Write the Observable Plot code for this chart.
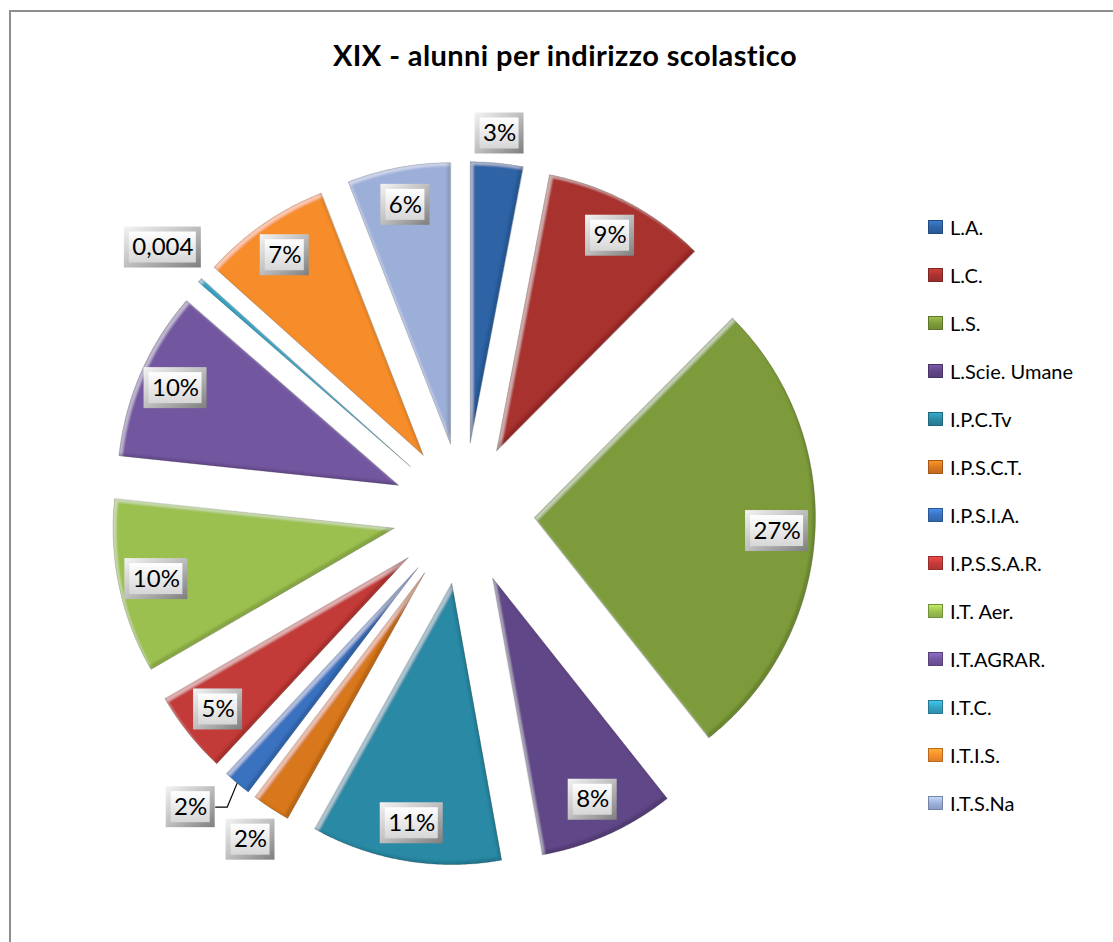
<!DOCTYPE html>
<html><head><meta charset="utf-8">
<script src="https://cdn.jsdelivr.net/npm/d3@7"></script>
<script src="https://cdn.jsdelivr.net/npm/@observablehq/plot@0.6"></script>
<style>
html,body{margin:0;padding:0;background:#fff;overflow:hidden;}
#wrap{position:relative;width:1113px;height:942px;overflow:hidden;font-family:Lato,"Open Sans",sans-serif;}
#frame{position:absolute;left:9px;top:10px;width:1300px;height:1100px;border:2px solid #8e8e8e;box-sizing:border-box;}
#chart{position:absolute;left:0;top:0;}
#title{position:absolute;left:0;top:36px;width:1130px;text-align:center;font-weight:bold;font-size:29px;letter-spacing:0.4px;line-height:38px;color:#000;}
#legend{position:absolute;left:928px;top:0;width:185px;height:942px;}
.item{position:absolute;left:0;height:24px;display:flex;align-items:center;white-space:nowrap;font-size:20px;color:#000;}
.sw{width:15px;height:14px;margin-right:7px;box-sizing:border-box;}
</style></head><body>
<div id="wrap"><div id="frame"></div><div id="chart"></div><div id="title">XIX - alunni per indirizzo scolastico</div><div id="legend"></div></div>
<script>
// ---- data ----
const categories = ["L.A.", "L.C.", "L.S.", "L.Scie. Umane", "I.P.C.Tv", "I.P.S.C.T.", "I.P.S.I.A.", "I.P.S.S.A.R.", "I.T. Aer.", "I.T.AGRAR.", "I.T.C.", "I.T.I.S.", "I.T.S.Na"];
const shares = [3.0, 9.4, 26.8, 7.8, 10.9, 2.2, 1.6, 4.7, 10.0, 9.7, 0.25, 7.4, 5.9];
const labels = ["3%", "9%", "27%", "8%", "11%", "2%", "2%", "5%", "10%", "10%", "0,004", "7%", "6%"];
const titleText = "XIX - alunni per indirizzo scolastico";

// ---- styles ----
const colors = ["#2f64a6", "#a8322f", "#7d9b3b", "#614787", "#2b89a4", "#d8771f", "#3a72c0", "#c33b39", "#9bc050", "#7356a0", "#33a1c0", "#f68d2c", "#9cafd8"];
const W = 1113, H = 942;
const CX = 463, CY = 513, R = 281;      // pie centre / radius in px
const EXPLODE = 71 / R;                   // explosion as fraction of radius
const LABEL_FS = 24, LABEL_FONT = "Lato, 'Open Sans', sans-serif";
const INSIDE_DIST = 0.865;

document.getElementById("title").textContent = titleText;

// ---- geometry from data ----
const total = d3.sum(shares);
let acc = 0;
const slices = categories.map((cat, i) => {
  const a0 = acc / total * 2 * Math.PI; acc += shares[i];
  const a1 = acc / total * 2 * Math.PI;
  const mid = (a0 + a1) / 2;
  return {i, cat, a0, a1, mid, share: shares[i] / total * 100, label: labels[i],
          ax: EXPLODE * Math.sin(mid), ay: EXPLODE * Math.cos(mid)};
});

const polyPts = [];
for (const s of slices) {
  polyPts.push({cat: s.cat, x: s.ax, y: s.ay});
  const n = Math.max(2, Math.ceil((s.a1 - s.a0) / 0.004));
  for (let k = 0; k <= n; k++) {
    const t = s.a0 + (s.a1 - s.a0) * k / n;
    polyPts.push({cat: s.cat, x: s.ax + Math.sin(t), y: s.ay + Math.cos(t)});
  }
}

// ---- label placement ----
const ctx = document.createElement("canvas").getContext("2d");
ctx.font = `${LABEL_FS}px ${LABEL_FONT}`;
const toPx = (x, y) => [CX + R * x, CY - R * y];
const placed = [];
const leaderPts = [];
for (const s of slices) {
  const w = Math.round(ctx.measureText(s.label).width + 16), h = 41;
  const outside = s.share < 3.5;
  let ang = s.mid, dist, moved = false;
  if (!outside) dist = INSIDE_DIST;
  else dist = 1 + (Math.abs(Math.sin(ang)) * w / 2 + Math.abs(Math.cos(ang)) * h / 2 + 7) / R;
  const pos = () => ({x: s.ax + dist * Math.sin(ang), y: s.ay + dist * Math.cos(ang)});
  let p = pos();
  const overlaps = (q) => placed.some(b => {
    const [ax, ay] = toPx(q.x, q.y), [bx, by] = toPx(b.x, b.y);
    return Math.abs(ax - bx) < (w + b.w) / 2 + 10 && Math.abs(ay - by) < (h + b.h) / 2 + 10;
  });
  if (outside) {
    let it = 0;
    while (overlaps(p) && it < 80) { ang += 0.5 * Math.PI / 180; dist += 1.5 / R; p = pos(); moved = true; it++; }
  }
  const lab = {cat: s.cat, label: s.label, x: p.x, y: p.y, w, h,
    x1: p.x - w / 2 / R, x2: p.x + w / 2 / R, y1: p.y - h / 2 / R, y2: p.y + h / 2 / R};
  placed.push(lab);
  if (moved) {
    const arc = {x: s.ax + Math.sin(s.mid), y: s.ay + Math.cos(s.mid)};
    const leftSide = p.x < arc.x;
    const edgeX = leftSide ? lab.x2 : lab.x1;
    const elbowX = edgeX + (leftSide ? 12 : -12) / R;
    leaderPts.push({id: s.cat, x: arc.x, y: arc.y}, {id: s.cat, x: elbowX, y: p.y}, {id: s.cat, x: edgeX, y: p.y});
  }
}

// ---- plot ----
const chart = Plot.plot({
  width: W, height: H,
  marginTop: 0, marginRight: 0, marginBottom: 0, marginLeft: 0,
  x: {domain: [-CX / R, (W - CX) / R], range: [0, W], axis: null},
  y: {domain: [-(H - CY) / R, CY / R], range: [H, 0], axis: null},
  color: {domain: categories, range: colors},
  style: {background: "transparent", overflow: "visible"},
  marks: [
    Plot.line(polyPts, {x: "x", y: "y", z: "cat", fill: "cat", stroke: "rgba(0,0,0,0.28)", strokeWidth: 0.8, curve: "linear-closed"}),
    Plot.line(leaderPts, {x: "x", y: "y", z: "id", stroke: "#000", strokeWidth: 1.2, strokeLinecap: "butt"}),
    Plot.rect(placed, {x1: "x1", x2: "x2", y1: "y1", y2: "y2", fill: "url(#boxEdge)"}),
    Plot.rect(placed, {x1: "x1", x2: "x2", y1: "y1", y2: "y2", inset: 5, fill: "url(#boxFace)"}),
    Plot.text(placed, {x: "x", y: "y", text: "label", fontSize: LABEL_FS, fontFamily: LABEL_FONT, fill: "#000"})
  ]
});

// gradients and bevel filter
const NS = "http://www.w3.org/2000/svg";
const defs = document.createElementNS(NS, "defs");
defs.innerHTML = `
<linearGradient id="boxEdge" x1="0" y1="0" x2="1" y2="1">
  <stop offset="0" stop-color="#f4f4f4"/><stop offset="0.45" stop-color="#c4c4c4"/><stop offset="1" stop-color="#7e7e7e"/>
</linearGradient>
<linearGradient id="boxFace" x1="0" y1="0" x2="0" y2="1">
  <stop offset="0" stop-color="#ffffff"/><stop offset="1" stop-color="#d6d6d6"/>
</linearGradient>
<filter id="bevel" x="-10%" y="-10%" width="120%" height="120%">
  <feOffset in="SourceAlpha" dx="3" dy="3" result="offTL"/>
  <feComposite in="SourceAlpha" in2="offTL" operator="out" result="tlEdge"/>
  <feGaussianBlur in="tlEdge" stdDeviation="1.2" result="tlBlur"/>
  <feFlood flood-color="#ffffff" flood-opacity="0.45"/>
  <feComposite in2="tlBlur" operator="in" result="hl"/>
  <feOffset in="SourceAlpha" dx="-3" dy="-3" result="offBR"/>
  <feComposite in="SourceAlpha" in2="offBR" operator="out" result="brEdge"/>
  <feGaussianBlur in="brEdge" stdDeviation="1.2" result="brBlur"/>
  <feFlood flood-color="#000000" flood-opacity="0.3"/>
  <feComposite in2="brBlur" operator="in" result="sh"/>
  <feComposite in="hl" in2="SourceAlpha" operator="in" result="hl2"/>
  <feComposite in="sh" in2="SourceAlpha" operator="in" result="sh2"/>
  <feMerge><feMergeNode in="SourceGraphic"/><feMergeNode in="hl2"/><feMergeNode in="sh2"/></feMerge>
</filter>`;
chart.insertBefore(defs, chart.firstChild);
const lineGroups = chart.querySelectorAll('g[aria-label="line"]');
if (lineGroups.length) lineGroups[0].setAttribute("filter", "url(#bevel)");
document.getElementById("chart").appendChild(chart);

// ---- legend ----
const legend = document.getElementById("legend");
categories.forEach((c, i) => {
  const it = document.createElement("div");
  it.className = "item";
  it.style.top = (227 + 48 * i - 12) + "px";
  const sw = document.createElement("span");
  sw.className = "sw";
  const col = d3.color(colors[i]);
  sw.style.background = `linear-gradient(to bottom, ${col.brighter(0.6)} 0%, ${colors[i]} 55%, ${col.darker(0.3)} 100%)`;
  sw.style.border = `1px solid ${col.darker(0.8)}`;
  it.appendChild(sw);
  const t = document.createElement("span");
  t.textContent = c;
  it.appendChild(t);
  legend.appendChild(it);
});
</script>
</body></html>
